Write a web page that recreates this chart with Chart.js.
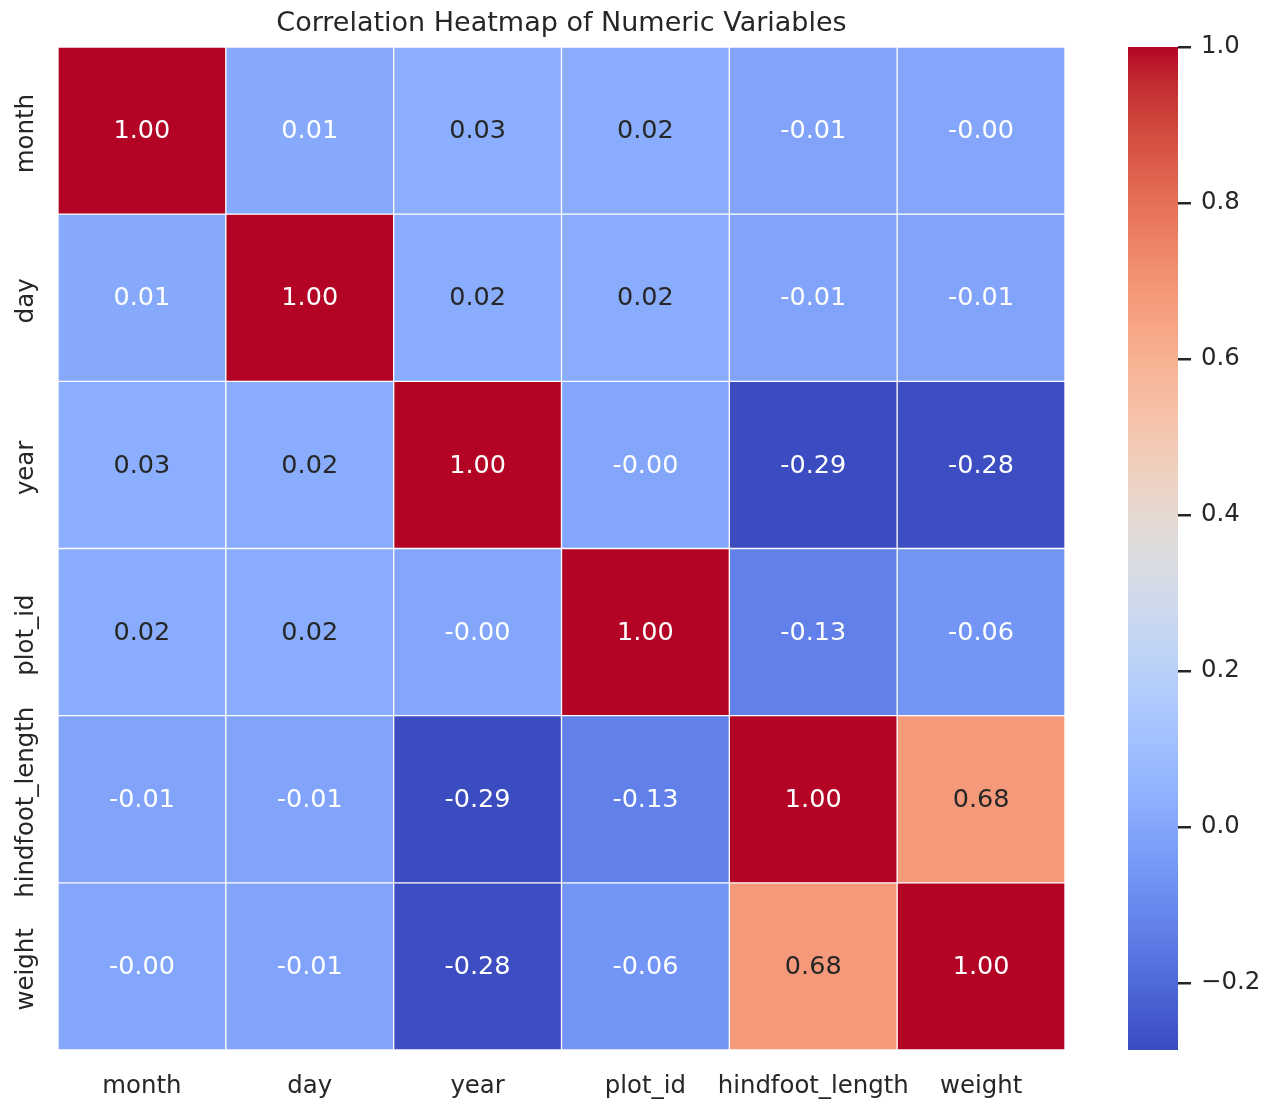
<!DOCTYPE html>
<html>
<head>
<meta charset="utf-8">
<script src="https://cdn.jsdelivr.net/npm/chart.js@4.4.0/dist/chart.umd.min.js"></script>
<style>
  body { margin: 0; background: #fff; }
  #wrap { position: relative; width: 1268px; height: 1100px; }
  #heat { position: absolute; left: 0; top: 0; }
  #cbar { position: absolute; left: 1100px; top: 0; }
</style>
</head>
<body>
<div id="wrap">
  <canvas id="heat" width="1268" height="1100"></canvas>
  <canvas id="cbar" width="168" height="1100"></canvas>
</div>
<script>
const rowLabels = ['month', 'day', 'year', 'plot_id', 'hindfoot_length', 'weight'];
const colLabels = ['month', 'day', 'year', 'plot_id', 'hindfoot_length', 'weight'];

// correlation rows, one per variable (-0.00 = tiny negative)
const monthRow    = [1.00, 0.01, 0.03, 0.02, -0.01, -0.00];
const dayRow      = [0.01, 1.00, 0.02, 0.02, -0.01, -0.01];
const yearRow     = [0.03, 0.02, 1.00, -0.00, -0.286, -0.28];
const plotRow     = [0.02, 0.02, -0.00, 1.00, -0.13, -0.06];
const hindfootRow = [-0.01, -0.01, -0.286, -0.13, 1.00, 0.68];
const weightRow   = [-0.00, -0.01, -0.28, -0.06, 0.68, 1.00];
const corr = [monthRow, dayRow, yearRow, plotRow, hindfootRow, weightRow];

const cbarTicks = [-0.2, 0.0, 0.2, 0.4, 0.6, 0.8, 1.0];

const vmin = Math.min(...corr.flat());
const vmax = Math.max(...corr.flat());

// matplotlib coolwarm (Moreland) table
const coolwarm = [
  [59,76,192],[68,90,204],[77,104,215],[87,117,225],[98,130,234],[108,142,241],
  [119,154,247],[130,165,251],[141,176,254],[152,185,255],[163,194,255],[174,201,253],
  [184,208,249],[194,213,244],[204,217,238],[213,219,230],[221,221,221],[229,216,209],
  [236,211,197],[241,204,184],[245,196,172],[247,187,159],[247,177,147],[247,166,134],
  [244,154,123],[241,141,111],[236,127,99],[229,112,88],[222,96,77],[213,80,66],
  [203,62,56],[192,40,47],[180,4,38]
];

function cmapRGB(t) {
  t = Math.max(0, Math.min(1, t));
  const p = t * (coolwarm.length - 1);
  const i = Math.min(Math.floor(p), coolwarm.length - 2);
  const f = p - i;
  const a = coolwarm[i], b = coolwarm[i + 1];
  return [0, 1, 2].map(k => a[k] + (b[k] - a[k]) * f);
}
function colorFor(v) {
  const c = cmapRGB((v - vmin) / (vmax - vmin));
  return `rgb(${c.map(Math.round).join(',')})`;
}
function textColorFor(v) {
  const c = cmapRGB((v - vmin) / (vmax - vmin)).map(x => {
    x /= 255;
    return x <= 0.03928 ? x / 12.92 : Math.pow((x + 0.055) / 1.055, 2.4);
  });
  const lum = 0.2126 * c[0] + 0.7152 * c[1] + 0.0722 * c[2];
  return lum > 0.408 ? '#262626' : '#ffffff';
}
function fmt(v) {
  const neg = v < 0 || Object.is(v, -0);
  return (neg ? '-' : '') + Math.abs(v).toFixed(2);
}

const FONT = "'DejaVu Sans', sans-serif";
const DARK = '#262626';

const cellLabels = {
  id: 'cellLabels',
  afterDatasetsDraw(chart) {
    const ctx = chart.ctx;
    ctx.save();
    ctx.font = `25.5px ${FONT}`;
    ctx.textAlign = 'center';
    ctx.textBaseline = 'middle';
    chart.data.datasets.forEach((ds, r) => {
      chart.getDatasetMeta(r).data.forEach((el, c) => {
        const v = corr[r][c];
        const p = el.getCenterPoint();
        ctx.fillStyle = textColorFor(v);
        ctx.fillText(fmt(v), p.x, p.y + 1);
      });
    });
    ctx.restore();
  }
};

const rowAxisLabels = {
  id: 'rowAxisLabels',
  afterDraw(chart) {
    const ctx = chart.ctx;
    const ys = chart.scales.y;
    ctx.save();
    ctx.font = `24.4px ${FONT}`;
    ctx.fillStyle = DARK;
    ctx.textAlign = 'center';
    ctx.textBaseline = 'alphabetic';
    rowLabels.forEach((lab, i) => {
      ctx.save();
      ctx.translate(chart.chartArea.left - 25, ys.getPixelForValue(i + 0.5) + 3);
      ctx.rotate(-Math.PI / 2);
      ctx.fillText(lab, 0, 0);
      ctx.restore();
    });
    ctx.restore();
  }
};

new Chart(document.getElementById('heat'), {
  type: 'bar',
  data: {
    labels: colLabels,
    datasets: corr.map((row, r) => ({
      label: rowLabels[r],
      data: row.map(() => [r, r + 1]),
      backgroundColor: row.map(colorFor),
      borderColor: '#ffffff',
      borderWidth: 1,
      borderSkipped: false,
      barPercentage: 1,
      categoryPercentage: 1,
      grouped: false
    }))
  },
  options: {
    responsive: false,
    animation: false,
    layout: { padding: { left: 0, right: 203, top: 0, bottom: 0 } },
    plugins: {
      legend: { display: false },
      tooltip: { enabled: false },
      title: {
        display: true,
        fullSize: false,
        text: 'Correlation Heatmap of Numeric Variables',
        color: DARK,
        font: { family: FONT, size: 27, weight: 'normal' },
        padding: { top: 8, bottom: 6.6 }
      }
    },
    scales: {
      x: {
        type: 'category',
        grid: { display: false },
        border: { display: false },
        ticks: { color: DARK, font: { family: FONT, size: 24.4 }, padding: 14, maxRotation: 0, autoSkip: false },
        afterFit: s => { s.height = 50; }
      },
      y: {
        type: 'linear',
        min: 0,
        max: 6,
        reverse: true,
        grid: { display: false },
        border: { display: false },
        ticks: { display: false },
        afterFit: s => { s.width = 58; }
      }
    }
  },
  plugins: [cellLabels, rowAxisLabels]
});

new Chart(document.getElementById('cbar'), {
  type: 'bar',
  data: {
    labels: ['cbar'],
    datasets: [{
      data: [[vmin, vmax]],
      backgroundColor: (c) => {
        const chart = c.chart;
        if (!chart.chartArea) return '#ccc';
        const ys = chart.scales.y;
        const g = chart.ctx.createLinearGradient(0, ys.getPixelForValue(vmin), 0, ys.getPixelForValue(vmax));
        coolwarm.forEach((col, i) => g.addColorStop(i / (coolwarm.length - 1), `rgb(${col.join(',')})`));
        return g;
      },
      borderWidth: 0,
      barPercentage: 1,
      categoryPercentage: 1
    }]
  },
  options: {
    responsive: false,
    animation: false,
    layout: { padding: { left: 28, right: 0, top: 47, bottom: 50 } },
    plugins: { legend: { display: false }, tooltip: { enabled: false } },
    scales: {
      x: { display: false },
      y: {
        position: 'right',
        min: vmin,
        max: vmax,
        afterBuildTicks: s => { s.ticks = cbarTicks.map(v => ({ value: v })); },
        grid: { drawOnChartArea: false, drawTicks: true, tickLength: 13, tickColor: DARK, lineWidth: 2.5 },
        border: { display: false },
        ticks: {
          color: DARK,
          padding: 10,
          font: { family: FONT, size: 24.4 },
          callback: v => v.toFixed(1).replace('-', '\u2212')
        },
        afterFit: s => { s.width = 90; }
      }
    }
  }
});
</script>
</body>
</html>
